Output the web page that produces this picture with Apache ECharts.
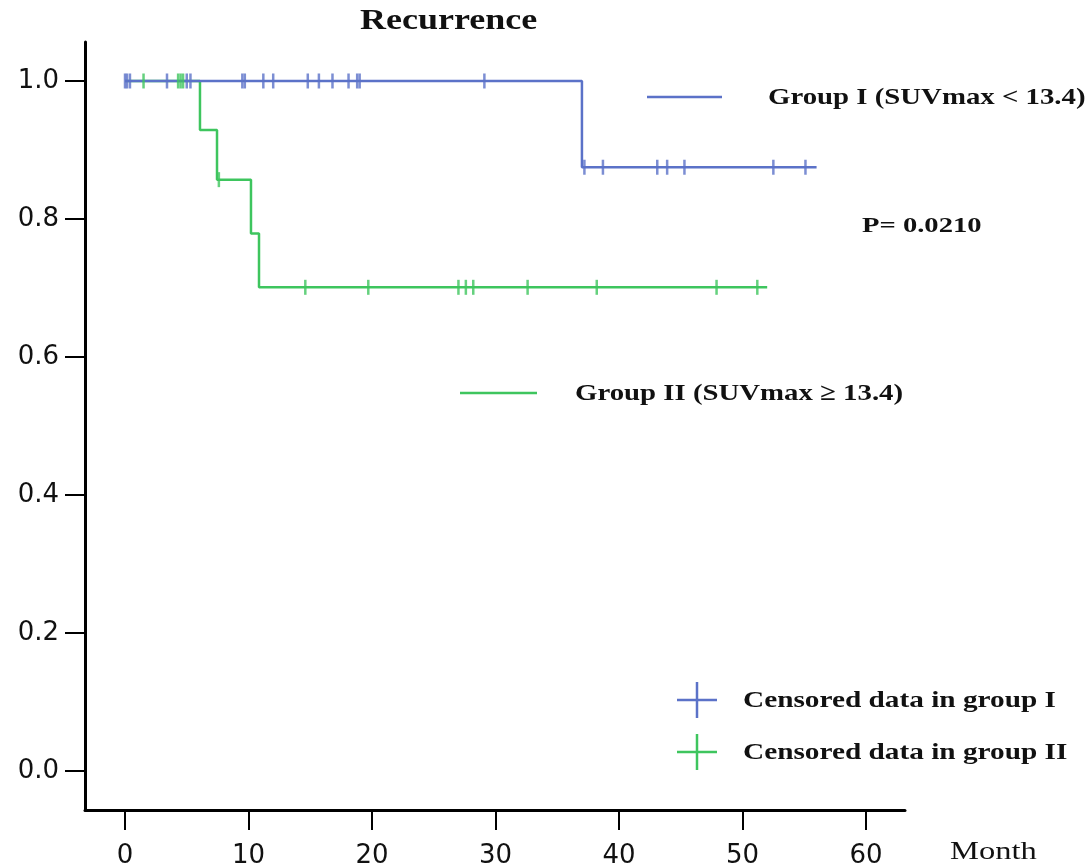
<!DOCTYPE html>
<html>
<head>
<meta charset="utf-8">
<script src="https://cdn.jsdelivr.net/npm/echarts@6/dist/echarts.min.js"></script>
<style>
  html, body { margin: 0; padding: 0; background: #fff; }
  #chart { width: 1090px; height: 864px; }
</style>
</head>
<body>
<div id="chart"></div>
<script>
// Kaplan-Meier curves, recurrence by SUVmax group
const monthTicks = [0, 10, 20, 30, 40, 50, 60];
const survTicks = [0, 0.2, 0.4, 0.6, 0.8, 1.0];

// step curves: [month, survival]
const group1Curve = [[0, 1], [37.0, 0.875], [56.0, 0.875]];
const group2Curve = [[0, 1], [6.07, 0.929], [7.45, 0.857], [10.2, 0.779], [10.85, 0.701], [52.0, 0.701]];

// censored times, grouped by the survival level they sit on
const group1CensorLevels = [1.0, 0.875];
const group1CensorTimes = [
    [0.0, 0.16, 0.4, 3.4, 5.0, 5.3, 9.5, 9.7, 11.2, 12.0, 14.8, 15.7, 16.8, 18.1, 18.8, 19.0, 29.1],
    [37.2, 38.7, 43.1, 43.9, 45.3, 52.5, 55.1]
];
const group2CensorLevels = [1.0, 0.857, 0.701];
const group2CensorTimes = [
    [1.5, 4.3, 4.5, 4.7],
    [7.6],
    [14.6, 19.7, 27.0, 27.6, 28.2, 32.6, 38.2, 47.9, 51.2]
];

const blue = '#5b72c8';
const green = '#3ec55e';
const serif = '"Liberation Serif", "Times New Roman", serif';

const toPoints = (times, levels) => {
    let pts = [];
    times.forEach((arr, i) => arr.forEach(t => pts.push([t, levels[i]])));
    return pts;
};

const chart = echarts.init(document.getElementById('chart'));

const label = (text, x, y, size, bold, sx) => ({
    type: 'text',
    x: x, y: y,
    scaleX: sx,
    style: {
        text: text,
        font: (bold ? 'bold ' : '') + size + 'px ' + serif,
        fill: '#111',
        textVerticalAlign: 'middle'
    }
});
const seg = (x1, y1, x2, y2, color) => ({
    type: 'line',
    shape: { x1: x1, y1: y1, x2: x2, y2: y2 },
    style: { stroke: color, lineWidth: 2.5 }
});

const option = {
    animation: false,
    backgroundColor: '#fff',
    grid: { left: 85, right: 185, top: 42, bottom: 54, outerBoundsMode: 'none' },
    xAxis: {
        type: 'value',
        min: -3.24,
        max: 63.16,
        splitLine: { show: false },
        axisLine: { onZero: false, lineStyle: { color: '#000', width: 3 } },
        axisTick: { inside: false, length: 20, lineStyle: { color: '#000', width: 2 }, customValues: monthTicks },
        axisLabel: {
            customValues: monthTicks,
            margin: 33,
            fontFamily: '"DejaVu Sans", sans-serif',
            fontSize: 26,
            color: '#111'
        }
    },
    yAxis: {
        type: 'value',
        min: -0.0565,
        max: 1.0565,
        splitLine: { show: false },
        axisLine: { show: true, onZero: false, lineStyle: { color: '#000', width: 3 } },
        axisTick: { show: true, length: 20, lineStyle: { color: '#000', width: 2 }, customValues: survTicks },
        axisLabel: {
            customValues: survTicks,
            margin: 26,
            formatter: v => v.toFixed(1),
            fontFamily: '"DejaVu Sans", sans-serif',
            fontSize: 26,
            color: '#111'
        }
    },
    series: [
        {
            name: 'Group II (SUVmax ≥ 13.4)',
            type: 'line',
            step: 'end',
            data: group2Curve,
            showSymbol: false,
            lineStyle: { color: green, width: 2.5 },
            z: 2
        },
        {
            name: 'Group I (SUVmax < 13.4)',
            type: 'line',
            step: 'end',
            data: group1Curve,
            showSymbol: false,
            lineStyle: { color: blue, width: 2.5 },
            z: 3
        },
        {
            name: 'Censored data in group I',
            type: 'scatter',
            data: toPoints(group1CensorTimes, group1CensorLevels),
            symbol: 'rect',
            symbolSize: [2.5, 15],
            itemStyle: { color: blue },
            z: 4
        },
        {
            name: 'Censored data in group II',
            type: 'scatter',
            data: toPoints(group2CensorTimes, group2CensorLevels),
            symbol: 'rect',
            symbolSize: [2.5, 15],
            itemStyle: { color: green },
            z: 5
        }
    ],
    graphic: [
        label('Recurrence', 360, 21, 30, true, 1.2),
        seg(647, 97, 722, 97, blue),
        label('Group I (SUVmax < 13.4)', 768, 98, 24, true, 1.2),
        label('P= 0.0210', 862, 226, 22, true, 1.3),
        seg(460, 393, 537, 393, green),
        label('Group II (SUVmax ≥ 13.4)', 575, 394, 24, true, 1.2),
        seg(677, 700, 717, 700, blue),
        seg(697, 682, 697, 718, blue),
        label('Censored data in group I', 743, 701, 24, true, 1.22),
        seg(677, 752, 717, 752, green),
        seg(697, 734, 697, 770, green),
        label('Censored data in group II', 743, 753, 24, true, 1.22),
        label('Month', 950, 852, 26, false, 1.25)
    ]
};

chart.setOption(option);
window.onresize = () => { chart.resize(); };
</script>
</body>
</html>
